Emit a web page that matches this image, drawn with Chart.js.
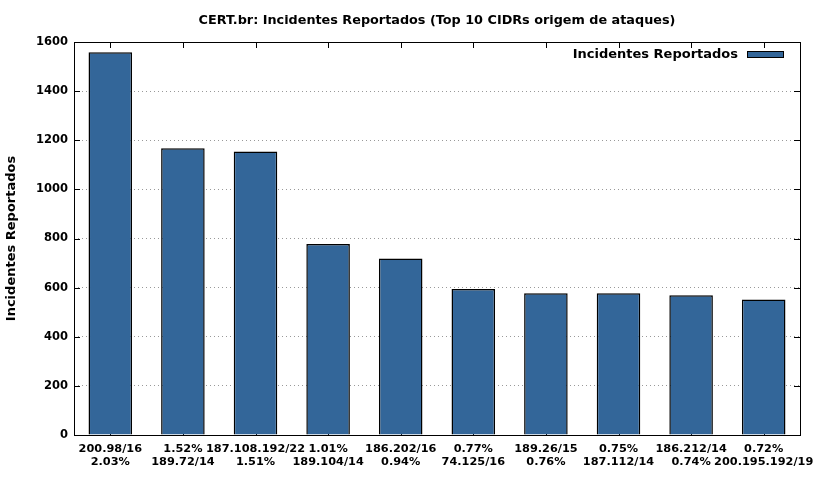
<!DOCTYPE html>
<html>
<head>
<meta charset="utf-8">
<script src="https://cdn.jsdelivr.net/npm/chart.js@4"></script>
<style>
  html, body { margin: 0; padding: 0; background: #fff; }
  #wrap { width: 831px; height: 480px; }
</style>
</head>
<body>
<div id="wrap"><canvas id="cidrChart"></canvas></div>
<script>
// --- data
const cidrs = ['200.98/16', '189.72/14', '187.108.192/22', '189.104/14', '186.202/16',
               '74.125/16', '189.26/15', '187.112/14', '186.212/14', '200.195.192/19'];
const shares = ['2.03%', '1.52%', '1.51%', '1.01%', '0.94%', '0.77%', '0.76%', '0.75%', '0.74%', '0.72%'];
const incidents = [1558, 1167, 1154, 778, 719, 594, 577, 577, 569, 552];
const yTicks = [0, 200, 400, 600, 800, 1000, 1200, 1400, 1600];

const seriesName = 'Incidentes Reportados';
const chartTitle = 'CERT.br: Incidentes Reportados (Top 10 CIDRs origem de ataques)';
const barColor = '#336699';
const FONT = 'DejaVu Sans';

// labels alternate: cidr over share, then share over cidr
const labels = cidrs.map((c, i) => i % 2 === 0 ? [c, shares[i]] : [shares[i], c]);

// gnuplot-ish frame: box all round + inward ticks, key and title over the plot centre
const framePlugin = {
  id: 'frame',
  beforeDatasetsDraw(chart) {
    const { ctx, chartArea: a, scales: { x, y } } = chart;
    ctx.save();
    ctx.strokeStyle = '#000';
    ctx.lineWidth = 1;
    ctx.beginPath();
    yTicks.forEach(v => {
      const py = Math.round(y.getPixelForValue(v)) + 0.5;
      ctx.moveTo(a.left, py); ctx.lineTo(a.left + 6, py);
      ctx.moveTo(a.right, py); ctx.lineTo(a.right - 6, py);
    });
    labels.forEach((l, i) => {
      const px = Math.round(x.getPixelForValue(i)) + 0.5;
      ctx.moveTo(px, a.top); ctx.lineTo(px, a.top + 6);
      ctx.moveTo(px, a.bottom); ctx.lineTo(px, a.bottom - 6);
    });
    ctx.stroke();
    ctx.restore();
  },
  afterDatasetsDraw(chart) {
    const { ctx, chartArea: a } = chart;
    ctx.save();
    ctx.strokeStyle = '#000';
    ctx.lineWidth = 1;
    ctx.strokeRect(Math.round(a.left) + 0.5, Math.round(a.top) + 0.5,
                   Math.round(a.right - a.left), Math.round(a.bottom - a.top));

    // title
    ctx.fillStyle = '#000';
    ctx.font = `bold 12.8px "${FONT}"`;
    ctx.textAlign = 'center';
    ctx.textBaseline = 'middle';
    ctx.fillText(chartTitle, (a.left + a.right) / 2, 20.5);

    // key, top right inside the plot
    const ds = chart.data.datasets[0];
    const boxW = 37, boxH = 7;
    const boxX = a.right - 16 - boxW;
    const cy = a.top + 12.5;
    ctx.fillStyle = ds.backgroundColor;
    ctx.fillRect(boxX, cy - boxH / 2, boxW, boxH);
    ctx.strokeRect(boxX + 0.5, cy - boxH / 2 + 0.5, boxW - 1, boxH - 1);
    ctx.fillStyle = '#000';
    ctx.font = `bold 13px "${FONT}"`;
    ctx.textAlign = 'right';
    ctx.fillText(ds.label, boxX - 9, cy);
    ctx.restore();
  }
};

new Chart(document.getElementById('cidrChart'), {
  type: 'bar',
  data: {
    labels,
    datasets: [{
      label: seriesName,
      data: incidents,
      backgroundColor: barColor,
      borderColor: '#000',
      borderWidth: 1.5,
      barPercentage: 0.6,
      categoryPercentage: 1.0
    }]
  },
  options: {
    responsive: true, maintainAspectRatio: false, animation: false,
    layout: { padding: { left: 0, right: 31, top: 42, bottom: 0 } },
    plugins: {
      legend: { display: false },
      tooltip: { enabled: false },
      title: { display: false }
    },
    scales: {
      x: {
        grid: { display: false, drawTicks: false },
        border: { display: false },
        ticks: {
          color: '#000', autoSkip: false, maxRotation: 0, padding: 7,
          font: { family: FONT, size: 11.3, weight: 'bold' }
        },
        afterFit: s => { s.height = 45; }
      },
      y: {
        min: 0, max: 1600,
        afterBuildTicks: s => { s.ticks = yTicks.map(v => ({ value: v })); },
        grid: {
          drawTicks: false,
          color: ctx => (ctx.tick.value === 0 || ctx.tick.value === 1600) ? 'rgba(0,0,0,0)' : '#999'
        },
        border: { display: false, dash: [1, 3] },
        ticks: {
          color: '#000', padding: 6,
          callback: v => String(v),
          font: { family: FONT, size: 11.5, weight: 'bold' }
        },
        title: {
          display: true, text: seriesName, color: '#000',
          font: { family: FONT, size: 13, weight: 'bold' },
          padding: { top: 4, bottom: 0 }
        },
        afterFit: s => { s.width = 74; }
      }
    }
  },
  plugins: [framePlugin]
});
</script>
</body>
</html>
